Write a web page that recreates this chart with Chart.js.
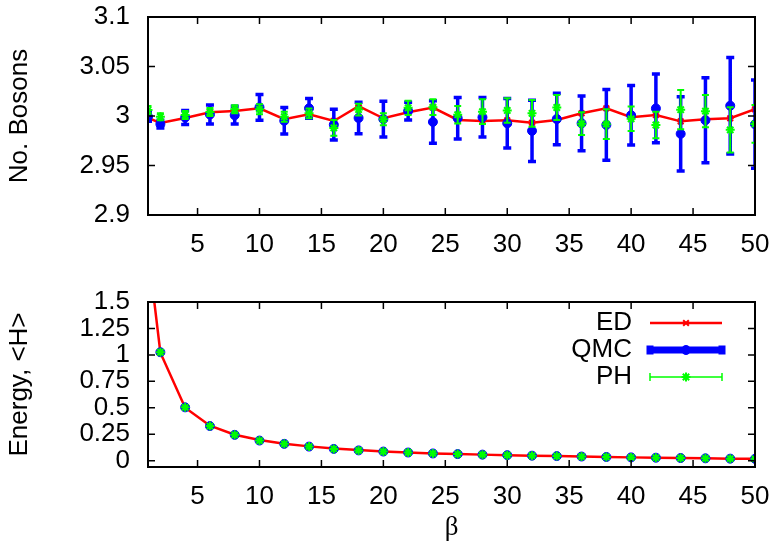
<!DOCTYPE html>
<html>
<head>
<meta charset="utf-8">
<script src="https://cdn.jsdelivr.net/npm/chart.js@4.4.1/dist/chart.umd.min.js"></script>
<style>
  body { margin: 0; background: #fff; }
  #wrap { position: relative; width: 774px; height: 548px; }
  #wrap canvas { position: absolute; left: 0; }
</style>
</head>
<body>
<div id="wrap">
  <canvas id="bosons" width="774" height="270" style="top:0"></canvas>
  <canvas id="energy" width="774" height="278" style="top:270px"></canvas>
</div>
<script>
// inverse temperature values
const betas = [1, 2, 4, 6, 8, 10, 12, 14, 16, 18, 20, 22, 24, 26, 28, 30, 32, 34, 36, 38, 40, 42, 44, 46, 48, 50];

// number of bosons
const bosonsED = [2.998, 2.993, 2.998, 3.0037, 3.005, 3.0078, 2.9967, 3.0017, 2.995, 3.010, 2.9977, 3.0037, 3.0085,
    2.996, 2.995, 2.9956, 2.9932, 2.996, 3.0027, 3.0078, 2.9987, 3.001, 2.9946, 2.9967, 2.9977, 3.0068];
const bosonsQMC = [2.9993, 2.9918, 2.9985, 3.0015, 3.0008, 3.0088, 2.9952, 3.0078, 2.9912, 2.998, 2.9968, 3.005, 2.994,
    2.9977, 2.9987, 2.9926, 2.985, 2.997, 2.9926, 2.991, 3.0008, 3.0077, 2.982, 2.9957, 3.0104, 2.9917];
const bosonsQMCErr = [0.0045, 0.004, 0.007, 0.0095, 0.009, 0.013, 0.0135, 0.010, 0.0155, 0.016, 0.018, 0.009, 0.0215,
    0.021, 0.020, 0.025, 0.031, 0.026, 0.0276, 0.0357, 0.030, 0.0347, 0.0375, 0.043, 0.0488, 0.0446];
const bosonsPH = [3.006, 2.9993, 3.001, 3.004, 3.0068, 3.0068, 2.9993, 3.0027, 2.988, 3.0065, 2.9967, 3.0083, 3.0089,
    3.0013, 3.0044, 3.0056, 3.0027, 3.0086, 2.9922, 2.9917, 2.9972, 2.9909, 3.0064, 3.0049, 2.986, 2.992];
const bosonsPHErr = [0.004, 0.0035, 0.004, 0.004, 0.004, 0.005, 0.005, 0.005, 0.008, 0.006, 0.006, 0.0072, 0.008,
    0.0088, 0.0125, 0.0123, 0.0135, 0.0126, 0.0115, 0.015, 0.0123, 0.0135, 0.0199, 0.0163, 0.0228, 0.019];

// energy <H>
const energyED = [2.0, 1.02, 0.5, 0.33, 0.245, 0.195, 0.16, 0.135, 0.115, 0.1, 0.086, 0.077, 0.068,
    0.062, 0.057, 0.052, 0.047, 0.043, 0.039, 0.035, 0.031, 0.028, 0.025, 0.022, 0.019, 0.017];
const energyQMC = [null, 1.025, 0.504, 0.327, 0.244, 0.19, 0.159, 0.133, 0.111, 0.097, 0.086, 0.077, 0.068,
    0.062, 0.057, 0.052, 0.047, 0.043, 0.039, 0.035, 0.031, 0.028, 0.025, 0.022, 0.019, 0.017];
const energyPH = energyQMC.slice();

// axis ticks
const betaTicks = [5, 10, 15, 20, 25, 30, 35, 40, 45, 50];
const bosonTicks = [2.9, 2.95, 3, 3.05, 3.1];
const energyTicks = [0, 0.25, 0.5, 0.75, 1, 1.25, 1.5];

const RED = '#ff0000';
const BLUE = '#0000ff';
const GREEN = '#00ff00';
const TICK_LEN = 7;

Chart.defaults.font.family = '"Liberation Sans", Arial, sans-serif';
Chart.defaults.font.size = 26;
Chart.defaults.color = '#000';

const pts = (xs, ys) => xs.map((x, i) => ({ x: x, y: ys[i] }));
const useTicks = (values) => (scale) => { scale.ticks = values.map(v => ({ value: v })); };

// the label overhang would otherwise push the plot area in; layout.padding decides instead
const noOverhang = (scale) => {
    scale.paddingTop = 0;
    scale.paddingBottom = 0;
    scale.paddingLeft = 0;
    scale.paddingRight = 0;
};

// gnuplot-like frame with inward ticks on all four sides
const frame = {
    id: 'frame',
    afterDraw: (chart) => {
        const { ctx, chartArea: a, scales } = chart;
        ctx.save();
        ctx.strokeStyle = '#000';
        ctx.lineWidth = 1.5;
        ctx.beginPath();
        scales.x.ticks.forEach(t => {
            const px = scales.x.getPixelForValue(t.value);
            ctx.moveTo(px, a.bottom); ctx.lineTo(px, a.bottom - TICK_LEN);
            ctx.moveTo(px, a.top); ctx.lineTo(px, a.top + TICK_LEN);
        });
        scales.y.ticks.forEach(t => {
            const py = scales.y.getPixelForValue(t.value);
            ctx.moveTo(a.left, py); ctx.lineTo(a.left + TICK_LEN, py);
            ctx.moveTo(a.right, py); ctx.lineTo(a.right - TICK_LEN, py);
        });
        ctx.stroke();
        ctx.lineWidth = 2;
        ctx.strokeRect(a.left, a.top, a.width, a.height);
        ctx.restore();
    }
};

// y error bars, drawn just below each dataset's own points
const errorBars = {
    id: 'errorBars',
    beforeDatasetDraw: (chart, args) => {
        const ds = chart.data.datasets[args.index];
        if (!ds.errors) return;
        const { ctx, chartArea: a } = chart;
        const yScale = chart.scales.y;
        ctx.save();
        ctx.beginPath();
        ctx.rect(a.left, a.top, a.width, a.height);
        ctx.clip();
        ctx.strokeStyle = ds.borderColor;
        ctx.lineWidth = ds.errorWidth;
        ctx.beginPath();
        ds.data.forEach((d, i) => {
            if (d.y == null) return;
            const x = args.meta.data[i].x;
            const lo = yScale.getPixelForValue(d.y - ds.errors[i]);
            const hi = yScale.getPixelForValue(d.y + ds.errors[i]);
            const c = ds.capWidth / 2;
            ctx.moveTo(x, lo); ctx.lineTo(x, hi);
            ctx.moveTo(x - c, lo); ctx.lineTo(x + c, lo);
            ctx.moveTo(x - c, hi); ctx.lineTo(x + c, hi);
        });
        ctx.stroke();
        ctx.restore();
    }
};

// key in the energy panel: label on the left, sample on the right
const keyLegend = {
    id: 'keyLegend',
    afterDraw: (chart, args, opts) => {
        const ctx = chart.ctx;
        ctx.save();
        ctx.font = '26px "Liberation Sans", Arial, sans-serif';
        ctx.textAlign = 'right';
        ctx.textBaseline = 'middle';
        chart.data.datasets.forEach((ds, i) => {
            const y = opts.rows[i];
            ctx.fillStyle = '#000';
            ctx.fillText(ds.label, opts.textRight, y);

            ctx.strokeStyle = ds.borderColor;
            ctx.fillStyle = ds.backgroundColor;
            ctx.lineWidth = ds.keyWidth;
            ctx.beginPath();
            ctx.moveTo(opts.from, y); ctx.lineTo(opts.to, y);
            const h = ds.keyCap / 2;
            ctx.moveTo(opts.from, y - h); ctx.lineTo(opts.from, y + h);
            ctx.moveTo(opts.to, y - h); ctx.lineTo(opts.to, y + h);
            ctx.stroke();

            ctx.lineWidth = ds.pointBorderWidth;
            Chart.helpers.drawPoint(ctx, {
                pointStyle: ds.pointStyle, radius: ds.pointRadius, rotation: 0, borderWidth: ds.pointBorderWidth
            }, (opts.from + opts.to) / 2, y);
        });
        ctx.restore();
    }
};

function xScale(height, withTitle) {
    return {
        type: 'linear',
        min: 1,
        max: 50,
        afterBuildTicks: useTicks(betaTicks),
        afterFit: (scale) => { scale.height = height; noOverhang(scale); },
        grid: { display: false, drawTicks: false },
        border: { display: false },
        ticks: { padding: 14, maxRotation: 0, autoSkip: false },
        title: {
            display: withTitle,
            text: 'β',
            font: { family: '"Liberation Serif", "Times New Roman", serif', size: 27 },
            padding: { top: 0, bottom: 4 }
        }
    };
}

function yScale(min, max, ticks, title) {
    return {
        min: min,
        max: max,
        afterBuildTicks: useTicks(ticks),
        afterFit: (scale) => { scale.width = 148; noOverhang(scale); },
        grid: { display: false, drawTicks: false },
        border: { display: false },
        ticks: { padding: 18, autoSkip: false, callback: (v) => String(v) },
        title: { display: true, text: title, padding: { top: 4, bottom: 0 } }
    };
}

function series(label, xs, ys, errs, style) {
    return Object.assign({ label: label, data: pts(xs, ys), errors: errs }, style);
}

const styleED = {
    borderColor: RED, backgroundColor: RED, borderWidth: 2.5, showLine: true,
    pointStyle: 'crossRot', pointRadius: 4, pointBorderWidth: 2,
    errorWidth: 2, capWidth: 7, keyWidth: 2.5, keyCap: 0, order: 3
};
const styleQMC = {
    borderColor: BLUE, backgroundColor: BLUE, showLine: false,
    pointStyle: 'circle', pointRadius: 4.5, pointBorderWidth: 1,
    errorWidth: 3.5, capWidth: 8, keyWidth: 7, keyCap: 9, order: 2
};
const stylePH = {
    borderColor: GREEN, backgroundColor: GREEN, showLine: false,
    pointStyle: 'star', pointRadius: 4.5, pointBorderWidth: 2,
    errorWidth: 2, capWidth: 7, keyWidth: 1.5, keyCap: 8, order: 1
};

const common = {
    responsive: false,
    animation: false,
    events: [],
    plugins: { legend: { display: false }, tooltip: { enabled: false } }
};

new Chart(document.getElementById('bosons'), {
    type: 'scatter',
    data: {
        datasets: [
            series('ED', betas, bosonsED, betas.map(() => 0), styleED),
            series('QMC', betas, bosonsQMC, bosonsQMCErr, styleQMC),
            series('PH', betas, bosonsPH, bosonsPHErr, stylePH)
        ]
    },
    options: Object.assign({}, common, {
        layout: { padding: { top: 17, right: 19, bottom: 0, left: 0 } },
        scales: {
            x: xScale(55, false),
            y: yScale(2.9, 3.1, bosonTicks, 'No. Bosons')
        }
    }),
    plugins: [errorBars, frame]
});

new Chart(document.getElementById('energy'), {
    type: 'scatter',
    data: {
        datasets: [
            series('ED', betas, energyED, null, styleED),
            series('QMC', betas, energyQMC, null, styleQMC),
            series('PH', betas, energyPH, null, stylePH)
        ]
    },
    options: Object.assign({}, common, {
        layout: { padding: { top: 32, right: 19, bottom: 0, left: 0 } },
        scales: {
            x: xScale(81, true),
            y: yScale(-0.06, 1.5, energyTicks, 'Energy, <H>')
        },
        plugins: {
            legend: { display: false },
            tooltip: { enabled: false },
            keyLegend: { rows: [53, 80, 107], textRight: 632, from: 650, to: 722 }
        }
    }),
    plugins: [errorBars, frame, keyLegend]
});
</script>
</body>
</html>
